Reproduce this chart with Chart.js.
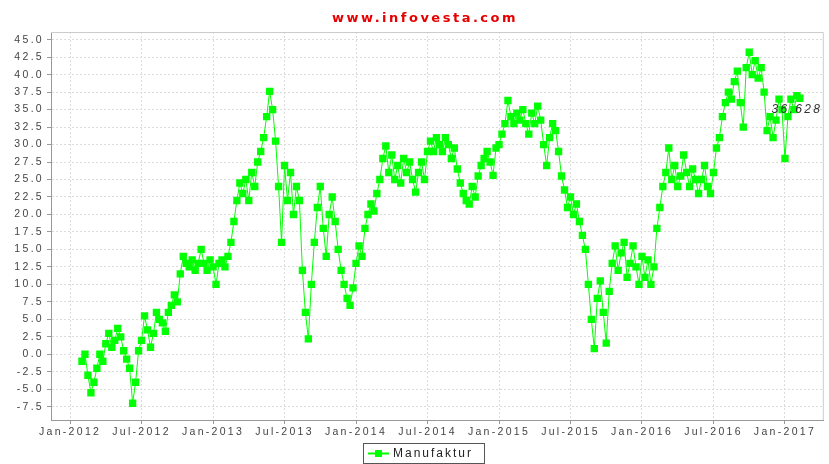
<!DOCTYPE html>
<html>
<head>
<meta charset="utf-8">
<script src="https://cdn.jsdelivr.net/npm/chart.js@4.4.1/dist/chart.umd.min.js"></script>
<style>
  html, body { margin: 0; padding: 0; background: #fff; }
</style>
</head>
<body>
<canvas id="chart" width="829" height="464"></canvas>
<script>
// Month index 0 = Jan-2012, one reading every quarter month
const startMonth = 1;
const stepMonths = 0.25;

const values2012 = [-1, 0, -3, -5.5, -4, -2, 0, -1, 1.5, 3,
    1, 2, 3.7, 2.5, 0.5, -0.7, -2, -7, -4, 0.5,
    2, 5.5, 3.5, 1, 3, 6, 5, 4.5, 3.3, 6,
    7, 8.5, 7.5, 11.5, 14, 13, 12.5, 13.5, 12, 13,
    15, 13, 12, 13.5];
const values2013 = [12.5, 10, 13, 13.5, 12.5, 14, 16, 19, 22, 24.5,
    23, 25, 22, 26, 24, 27.5, 29, 31, 34, 37.6,
    35, 30.5, 24, 16, 27, 22, 26, 20, 24, 22,
    12, 6, 2.2, 10, 16, 21, 24, 18, 14, 20,
    22.5, 19, 15, 12, 10, 8, 7, 9.5];
const values2014 = [13, 15.5, 14, 18, 20, 21.5, 20.5, 23, 25, 28,
    29.8, 26, 28.5, 25, 27, 24.5, 28, 26, 27.5, 25,
    23.2, 26, 27.5, 25, 29, 30.5, 29, 31, 30, 29,
    31, 30, 28, 29.5, 26.5, 24.5, 23, 22, 21.5, 24,
    22.5, 25.5, 27, 28, 29, 27.5, 25.6, 29.5];
const values2015 = [30, 31.5, 33, 36.3, 34, 33, 34.5, 33.5, 35, 33,
    31.5, 34.5, 33, 35.5, 33.5, 30, 27, 31, 33, 32,
    29, 25.5, 23.5, 21, 22.5, 20, 21.5, 19, 17, 15,
    10, 5, 0.8, 8, 10.5, 6, 1.6, 9, 13, 15.5,
    12, 14.5, 16, 11, 13, 15.5, 12.5, 10];
const values2016 = [14, 11, 13.5, 10, 12.5, 18, 21, 24, 26, 29.5,
    25, 27, 24, 25.5, 28.5, 26, 24, 26.5, 25, 23,
    25, 27, 24, 23, 26, 29.5, 31, 34, 36, 37.5,
    36.5, 39, 40.5, 36, 32.5, 41, 43.2, 40, 42, 39.5,
    41, 37.5, 32, 34, 31, 33.5, 36.5, 35];
const values2017 = [28, 34, 36.5, 35, 37, 36.628];

const xTickLabels = ['Jan-2012', 'Jul-2012', 'Jan-2013', 'Jul-2013', 'Jan-2014', 'Jul-2014',
    'Jan-2015', 'Jul-2015', 'Jan-2016', 'Jul-2016', 'Jan-2017'];
const yTickValues = [-7.5, -5, -2.5, 0, 2.5, 5, 7.5, 10, 12.5, 15, 17.5, 20, 22.5,
    25, 27.5, 30, 32.5, 35, 37.5, 40, 42.5, 45];

const seriesName = 'Manufaktur';
const titleText = 'www.infovesta.com';
const GREEN = '#00ff00';
const FONT = '"Liberation Sans", Arial, sans-serif';

const allValues = [].concat(values2012, values2013, values2014, values2015, values2016, values2017);
const points = allValues.map((v, i) => ({ x: startMonth + i * stepMonths, y: v }));

const decor = {
    id: 'decor',
    beforeDraw(chart) {
        // wide lettering like the original picture
        chart.ctx.letterSpacing = '2.3px';
    },
    afterDatasetsDraw(chart) {
        const { ctx, chartArea: a } = chart;
        ctx.save();
        // top and right frame
        ctx.strokeStyle = '#cccccc';
        ctx.lineWidth = 1;
        ctx.beginPath();
        ctx.moveTo(a.left, a.top + 0.5);
        ctx.lineTo(a.right - 0.5, a.top + 0.5);
        ctx.lineTo(a.right - 0.5, a.bottom);
        ctx.stroke();

        // last value label
        const meta = chart.getDatasetMeta(0);
        const last = meta.data[meta.data.length - 1];
        ctx.font = 'italic 12px ' + FONT;
        ctx.fillStyle = '#333';
        ctx.textAlign = 'center';
        ctx.textBaseline = 'middle';
        ctx.letterSpacing = '2.3px';
        ctx.fillText(allValues[allValues.length - 1].toFixed(3), last.x - 3, last.y + 11);
        ctx.restore();
    },
    afterDraw(chart) {
        const ctx = chart.ctx;
        ctx.save();
        // title
        ctx.font = 'bold 13px "DejaVu Sans"';
        ctx.fillStyle = '#e60000';
        ctx.textAlign = 'center';
        ctx.textBaseline = 'middle';
        ctx.letterSpacing = '2.5px';
        ctx.fillText(titleText, 425, 19);

        // legend box
        ctx.strokeStyle = '#555';
        ctx.lineWidth = 1;
        ctx.strokeRect(363.5, 443.5, 121, 20);
        ctx.strokeStyle = GREEN;
        ctx.lineWidth = 2;
        ctx.beginPath();
        ctx.moveTo(368, 453.5);
        ctx.lineTo(389, 453.5);
        ctx.stroke();
        ctx.fillStyle = GREEN;
        ctx.fillRect(375, 450, 7, 7);
        ctx.font = '12px ' + FONT;
        ctx.fillStyle = '#222';
        ctx.textAlign = 'left';
        ctx.letterSpacing = '2px';
        ctx.fillText(seriesName, 393, 454);
        ctx.restore();
    }
};

new Chart(document.getElementById('chart'), {
    type: 'line',
    data: {
        datasets: [{
            label: seriesName,
            data: points,
            borderColor: GREEN,
            borderWidth: 1,
            pointStyle: 'rect',
            pointRadius: 5.2,
            pointBackgroundColor: GREEN,
            pointBorderWidth: 0,
            tension: 0
        }]
    },
    options: {
        responsive: false,
        animation: false,
        layout: { padding: { top: 32, right: 5, bottom: 29, left: 0 } },
        plugins: {
            legend: { display: false },
            tooltip: { enabled: false }
        },
        scales: {
            x: {
                type: 'linear',
                min: -1.6,
                max: 63.26,
                afterBuildTicks: s => { s.ticks = xTickLabels.map((_, i) => ({ value: i * 6 })); },
                afterFit: s => { s.height = 15; },
                grid: { color: '#dcdcdc', tickLength: 4, tickColor: '#999' },
                border: { color: '#999', dash: [2, 2] },
                ticks: {
                    autoSkip: false,
                    maxRotation: 0,
                    padding: 2,
                    color: '#444',
                    font: { family: FONT, size: 10.5 },
                    callback: v => xTickLabels[Math.round(v / 6)]
                }
            },
            y: {
                min: -9.4,
                max: 46.1,
                afterBuildTicks: s => { s.ticks = yTickValues.map(v => ({ value: v })); },
                afterFit: s => { s.width = 51; },
                grid: { color: '#dcdcdc', tickLength: 4, tickColor: '#999' },
                border: { color: '#999', dash: [2, 2] },
                ticks: {
                    padding: 3,
                    color: '#444',
                    font: { family: FONT, size: 10.5 },
                    callback: v => v.toFixed(1)
                }
            }
        }
    },
    plugins: [decor]
});
</script>
</body>
</html>
